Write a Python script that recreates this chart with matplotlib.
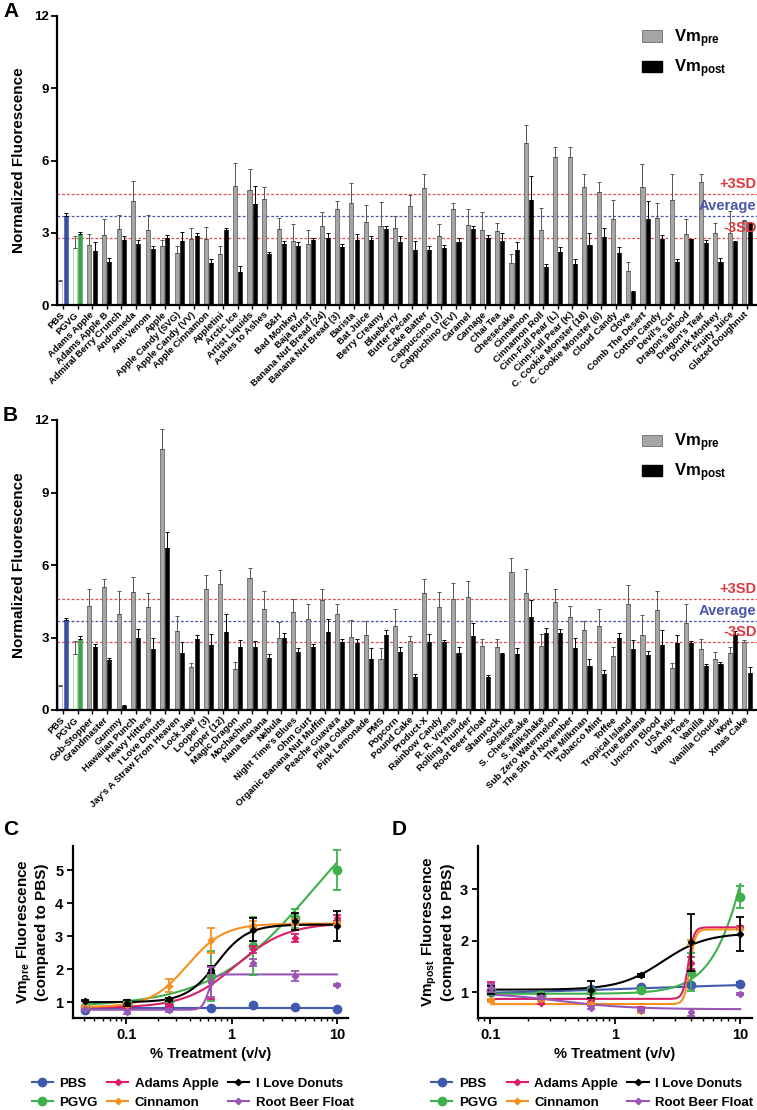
import numpy as np
import matplotlib
matplotlib.use("Agg")
import matplotlib.pyplot as plt
from matplotlib.patches import Patch
from matplotlib.lines import Line2D

plt.rcParams['font.family'] = ['Liberation Sans', 'DejaVu Sans']
plt.rcParams['font.weight'] = 'bold'
plt.rcParams['mathtext.fontset'] = 'custom'
plt.rcParams['mathtext.rm'] = 'Liberation Sans:bold'
plt.rcParams['mathtext.it'] = 'Liberation Sans:bold'
plt.rcParams['mathtext.bf'] = 'Liberation Sans:bold'
plt.rcParams['mathtext.default'] = 'regular'

# ---------------- Panel A data ----------------
names_A = ["PBS", "PGVG", "Adams Apple", "Adams Apple B", "Admiral Berry Crunch", "Andromeda",
           "Anti-Venom", "Apple", "Apple Candy (SVG)", "Apple Candy (VV)", "Apple Cinnamon",
           "Appletini", "Arctic Ice", "Artist Liquids", "Ashes to Ashes", "B&H", "Bad Monkey",
           "Baja Burst", "Banana Nut Bread (24)", "Banana Nut Bread (3)", "Barista", "Bat Juice",
           "Berry Creamy", "Blueberry", "Butter Pecan", "Cake Batter", "Cappuccino (J)",
           "Cappuchino (EV)", "Caramel", "Carnage", "Chai Tea", "Cheesecake", "Cinnamon",
           "Cinnamon Roll", "Cinn-Full Pear (L)", "Cinn-Full Pear (K)", "C. Cookie Monster (18)",
           "C. Cookie Monster (6)", "Cloud Candy", "Clove", "Comb The Desert", "Cotton Candy",
           "Devil's Cut", "Dragon's Blood", "Dragon's Tear", "Drunk Monkey", "Fruity Juice",
           "Glazed Doughnut"]
pre_A = [0.98, 2.35, 2.50, 2.90, 3.14, 4.31, 3.11, 2.45, 2.14, 2.76, 2.76, 2.10, 4.94, 4.78,
         4.40, 3.14, 2.67, 2.53, 3.30, 3.97, 4.23, 3.44, 3.26, 3.18, 4.12, 4.85, 2.86, 3.98,
         3.32, 3.12, 3.08, 1.73, 6.72, 3.11, 6.14, 6.14, 4.92, 4.71, 3.58, 1.42, 4.92, 3.61,
         4.34, 2.96, 5.09, 2.97, 3.00, 3.50]
pre_err_A = [0.05, 0.50, 0.45, 0.67, 0.60, 0.82, 0.62, 0.25, 0.31, 0.44, 0.49, 0.35, 0.96, 0.85,
             0.50, 0.46, 0.68, 0.57, 0.58, 0.36, 0.82, 0.71, 1.00, 0.52, 0.46, 0.57, 0.49, 0.27,
             0.68, 0.73, 0.32, 0.37, 0.77, 0.91, 0.43, 0.41, 0.51, 0.38, 0.79, 0.36, 0.93, 0.62,
             1.09, 0.61, 0.34, 0.43, 0.90, 0.05]
post_A = [3.70, 2.96, 2.25, 1.80, 2.71, 2.54, 2.32, 2.80, 2.64, 2.86, 1.76, 3.12, 1.38, 4.20,
          2.13, 2.52, 2.43, 2.71, 2.78, 2.42, 2.71, 2.68, 3.17, 2.63, 2.28, 2.27, 2.35, 2.63,
          3.14, 2.78, 2.65, 2.27, 4.37, 1.59, 2.20, 1.70, 2.50, 2.82, 2.17, 0.54, 3.57, 2.74,
          1.77, 2.72, 2.57, 1.80, 2.60, 3.35]
post_err_A = [0.12, 0.09, 0.35, 0.15, 0.14, 0.16, 0.13, 0.10, 0.41, 0.14, 0.14, 0.08, 0.22, 0.73,
              0.07, 0.13, 0.17, 0.09, 0.19, 0.13, 0.24, 0.17, 0.13, 0.22, 0.37, 0.18, 0.15, 0.17,
              0.16, 0.12, 0.35, 0.33, 0.99, 0.11, 0.20, 0.20, 0.50, 0.38, 0.23, 0.06, 0.73, 0.16,
              0.13, 0.03, 0.13, 0.15, 0.05, 0.05]

# ---------------- Panel B data ----------------
names_B = ["PBS", "PGVG", "Gob-Stopper", "Grandmaster", "Gummy", "Hawaiian Punch", "Heavy Hitters",
           "I Love Donuts", "Jay's A Straw From Heaven", "Lock Jaw", "Looper (3)", "Looper (12)",
           "Magic Dragon", "Mochachino", "Nana Banana", "Nebula", "Night Time's Blues", "Ohm Gurt",
           "Organic Banana Nut Muffin", "Peache Guavara", "Piña Colada", "Pink Lemonade", "PMS",
           "Popcorn", "Pound Cake", "Product-X", "Rainbow Candy", "R. R. Vixens", "Rolling Thunder",
           "Root Beer Float", "Shamrock", "Solstice", "S. Cheesecake", "S. Milkshake",
           "Sub Zero Watermelon", "The 5th of November", "The Milkman", "Tobacco Mint", "Toffee",
           "Tropical Island", "True Banana", "Unicorn Blood", "USA Mix", "Vamp Toes", "Vanilla",
           "Vanilla Clouds", "Wow", "Xmas Cake"]
pre_B = [0.99, 2.32, 4.30, 5.08, 3.96, 4.87, 4.25, 10.79, 3.26, 1.78, 5.02, 5.23, 1.68, 5.45,
         4.18, 2.97, 4.06, 3.77, 4.55, 3.96, 3.02, 3.10, 2.11, 3.49, 2.84, 4.86, 4.25, 4.61, 4.66,
         2.65, 2.61, 5.70, 4.84, 2.63, 4.46, 3.83, 3.31, 3.49, 2.23, 4.39, 3.10, 4.14, 1.75, 3.60,
         2.54, 2.12, 2.34, 2.83]
pre_err_B = [0.05, 0.55, 0.70, 0.33, 0.98, 0.63, 0.58, 0.82, 0.63, 0.15, 0.57, 0.56, 0.32, 0.43,
             0.74, 0.68, 0.54, 0.60, 0.45, 0.41, 0.70, 0.60, 0.44, 0.68, 0.21, 0.56, 0.62, 0.66,
             0.66, 0.30, 0.34, 0.59, 0.98, 0.52, 0.55, 0.46, 0.37, 0.68, 0.37, 0.77, 0.82, 0.78,
             0.20, 0.77, 0.41, 0.28, 0.26, 0.05]
post_B = [3.72, 2.95, 2.59, 2.07, 0.17, 2.97, 2.54, 6.69, 2.34, 2.95, 2.70, 3.21, 2.62, 2.62,
          2.15, 2.99, 2.39, 2.59, 3.21, 2.80, 2.79, 2.10, 3.09, 2.41, 1.38, 2.80, 2.81, 2.37,
          3.06, 1.35, 2.32, 2.30, 3.86, 3.20, 3.19, 2.55, 1.82, 1.50, 2.99, 2.52, 2.28, 2.69,
          2.77, 2.76, 1.81, 1.92, 3.10, 1.54]
post_err_B = [0.08, 0.10, 0.16, 0.10, 0.03, 0.38, 0.46, 0.66, 0.46, 0.15, 0.45, 0.77, 0.28, 0.23,
              0.15, 0.21, 0.16, 0.16, 0.54, 0.15, 0.16, 0.45, 0.21, 0.19, 0.12, 0.35, 0.09, 0.23,
              0.54, 0.10, 0.03, 0.25, 0.69, 0.20, 0.16, 0.45, 0.28, 0.15, 0.21, 0.38, 0.17, 0.61,
              0.33, 0.09, 0.09, 0.08, 0.15, 0.26]

ref_plus3sd = 4.6
ref_average = 3.7
ref_minus3sd = 2.8

# ---------------- Panels C / D data ----------------
series = ["PBS", "PGVG", "Adams Apple", "Cinnamon", "I Love Donuts", "Root Beer Float"]
colors = ["#3F5AAE", "#3DB04B", "#D81F68", "#F7901E", "#000000", "#9A55B5"]
markers = ["o", "o", "D", "D", "D", "D"]

conc_C = [0.04096, 0.1024, 0.256, 0.64, 1.6, 4.0, 10.0]
vals_C = [
    [0.77, 0.95, 0.85, 0.82, 0.90, 0.85, 0.79],
    [0.85, 0.97, 1.02, 1.80, 2.69, 3.54, 5.00],
    [0.82, 0.88, 0.90, 1.60, 2.60, 2.94, 3.55],
    [0.87, 0.92, 1.50, 2.87, 3.35, 3.43, 3.38],
    [1.05, 0.97, 1.09, 1.98, 3.20, 3.45, 3.30],
    [0.78, 0.70, 0.75, 1.60, 2.20, 1.78, 1.53],
]
errs_C = [
    [0.02, 0.10, 0.05, 0.03, 0.03, 0.03, 0.03],
    [0.03, 0.05, 0.05, 0.75, 0.88, 0.28, 0.60],
    [0.03, 0.05, 0.05, 0.50, 0.10, 0.12, 0.08],
    [0.02, 0.05, 0.20, 0.37, 0.10, 0.10, 0.05],
    [0.02, 0.10, 0.05, 0.10, 0.35, 0.25, 0.45],
    [0.02, 0.05, 0.05, 0.45, 0.10, 0.15, 0.03],
]
# 4-parameter logistic fit parameters: bottom, top, EC50, hill
fit_C = [
    (0.83, 0.83, 1.0, 1.0),
    (0.85, 8.0, 6.0, 0.9),
    (0.83, 3.40, 1.10, 1.8),
    (0.85, 3.38, 0.38, 2.5),
    (1.00, 3.35, 0.72, 3.0),
    (0.77, 1.84, 0.60, 15.0),
]

conc_D = [0.1024, 0.256, 0.64, 1.6, 4.0, 10.0]
vals_D = [
    [1.00, 0.94, 1.06, 1.10, 1.15, 1.16],
    [1.05, 0.95, 1.02, 1.04, 1.40, 2.85],
    [1.12, 0.80, 0.84, 0.68, 1.57, 2.26],
    [0.84, 0.86, 0.78, 0.63, 1.97, 2.23],
    [1.05, 0.92, 1.05, 1.33, 1.97, 2.14],
    [1.08, 0.90, 0.70, 0.66, 0.61, 0.97],
]
errs_D = [
    [0.15, 0.05, 0.05, 0.03, 0.03, 0.03],
    [0.10, 0.05, 0.05, 0.03, 0.37, 0.22],
    [0.08, 0.03, 0.03, 0.03, 0.12, 0.03],
    [0.03, 0.03, 0.03, 0.03, 0.05, 0.03],
    [0.08, 0.05, 0.16, 0.03, 0.55, 0.33],
    [0.08, 0.03, 0.03, 0.03, 0.07, 0.02],
]
fit_D = [
    (0.95, 1.20, 1.5, 0.6),
    (0.97, 10.0, 16.0, 2.5),
    (0.87, 2.26, 3.85, 20.0),
    (0.77, 2.22, 3.95, 20.0),
    (1.05, 2.15, 2.40, 2.5),
    (1.00, 0.67, 0.35, 1.5),
]

# ---------------- Figure ----------------
W, H = 757, 1110
fig = plt.figure(figsize=(W / 100, H / 100), dpi=100)
fig.patch.set_facecolor("white")


def px_axes(l, t, r, b):
    return fig.add_axes([l / W, 1 - b / H, (r - l) / W, (b - t) / H])


PRE_FACE = "#A6A6A6"
PRE_EDGE = "#6A6A6A"


def bar_panel(ax, names, pre, pre_err, post, post_err):
    n = len(names)
    x = np.arange(n)
    w = 0.28
    off = 0.18
    pre_fc = [PRE_FACE] * n
    pre_ec = [PRE_EDGE] * n
    post_fc = ["black"] * n
    pre_fc[0], pre_ec[0], post_fc[0] = "white", "#A9B5DB", "#3A4E9F"
    pre_fc[1], pre_ec[1], post_fc[1] = "white", "#9FD4A0", "#3AA64B"
    ax.bar(x - off, pre, w, color=pre_fc, edgecolor=pre_ec, linewidth=0.6, zorder=2)
    ax.bar(x + off, post, w, color=post_fc, edgecolor=post_fc, linewidth=0.4, zorder=2)
    ax.errorbar(x - off, pre, yerr=[np.zeros(n), pre_err], fmt="none", ecolor="#555555",
                elinewidth=0.7, capsize=1.2, capthick=0.7, zorder=3)
    ax.errorbar(x + off, post, yerr=[np.zeros(n), post_err], fmt="none", ecolor="black",
                elinewidth=0.7, capsize=1.2, capthick=0.7, zorder=3)
    ax.set_xlim(-0.41, n - 1 + 0.69)
    ax.set_ylim(0, 12)
    ax.set_yticks([0, 3, 6, 9, 12])
    ax.set_xticks(x)
    ax.set_xticklabels(names, rotation=45, ha="right", va="center", rotation_mode="anchor",
                       fontsize=6.8, fontweight="bold")
    ax.tick_params(axis="x", length=3, width=1.0, pad=3)
    ax.tick_params(axis="y", length=4, width=1.3, labelsize=9.5, pad=2)
    for s in ["top", "right"]:
        ax.spines[s].set_visible(False)
    for s in ["left", "bottom"]:
        ax.spines[s].set_linewidth(1.6)
    ax.set_ylabel("Normalized Fluorescence", fontsize=11, fontweight="bold", labelpad=6)
    # reference lines
    ax.axhline(ref_plus3sd, color="#E5484D", lw=0.9, ls=(0, (2.2, 1.6)), zorder=1)
    ax.axhline(ref_average, color="#4756A8", lw=0.9, ls=(0, (2.2, 1.6)), zorder=1)
    ax.axhline(ref_minus3sd, color="#E5484D", lw=0.9, ls=(0, (2.2, 1.6)), zorder=1)
    xr = n - 1 + 0.65
    ax.text(xr, ref_plus3sd + 0.12, "+3SD", color="#E0383E", ha="right", va="bottom",
            fontsize=10.5, fontweight="bold", zorder=5)
    ax.text(xr, ref_average + 0.12, "Average", color="#4A57A8", ha="right", va="bottom",
            fontsize=10.5, fontweight="bold", zorder=5)
    ax.text(xr, ref_minus3sd + 0.12, "-3SD", color="#E0383E", ha="right", va="bottom",
            fontsize=10.5, fontweight="bold", zorder=5)
    handles = [Patch(facecolor=PRE_FACE, edgecolor=PRE_EDGE, linewidth=0.6),
               Patch(facecolor="black", edgecolor="black")]
    ax.legend(handles, ["Vm$_{pre}$", "Vm$_{post}$"], loc="upper left",
              bbox_to_anchor=(0.826, 0.985), frameon=False, fontsize=12,
              handlelength=1.2, handleheight=0.65, labelspacing=0.45, handletextpad=0.7,
              borderaxespad=0)


axA = px_axes(57, 16, 757, 305)
bar_panel(axA, names_A, pre_A, pre_err_A, post_A, post_err_A)
axB = px_axes(57, 420, 757, 710)
bar_panel(axB, names_B, pre_B, pre_err_B, post_B, post_err_B)


def logistic(x, p):
    b, t, ec, h = p
    return b + (t - b) / (1 + (ec / x) ** h)


def curve_panel(ax, conc, vals, errs, fits, xlim, ylim, yticks, ylabel, leg_x):
    xs = np.logspace(np.log10(min(conc)), np.log10(max(conc)), 400)
    for i, name in enumerate(series):
        c = colors[i]
        ax.plot(xs, logistic(xs, fits[i]), color=c, lw=1.5, zorder=2 + i * 0.1)
        ms = 6 if markers[i] == "o" else 3.2
        ax.errorbar(conc, vals[i], yerr=errs[i], fmt=markers[i], color=c, ms=ms,
                    elinewidth=1.3, capsize=3, capthick=1.3, zorder=3 + i * 0.1)
    ax.set_xscale("log")
    ax.set_xlim(*xlim)
    ax.set_ylim(*ylim)
    ax.set_yticks(yticks)
    ax.set_xticks([0.1, 1, 10])
    ax.set_xticklabels(["0.1", "1", "10"])
    ax.tick_params(axis="both", which="major", length=4, width=1.3, labelsize=10.5, pad=3)
    ax.tick_params(axis="x", which="minor", length=2.5, width=1.0)
    for s in ["top", "right"]:
        ax.spines[s].set_visible(False)
    for s in ["left", "bottom"]:
        ax.spines[s].set_linewidth(1.6)
    ax.set_xlabel("% Treatment (v/v)", fontsize=10.5, fontweight="bold", labelpad=4)
    ax.set_ylabel(ylabel, fontsize=11, fontweight="bold", labelpad=4, linespacing=1.1)
    handles = [Line2D([], [], color=colors[i], marker=markers[i],
                      ms=6 if markers[i] == "o" else 3.2, lw=1.5) for i in range(len(series))]
    ax.legend(handles, series, loc="upper left", bbox_to_anchor=(leg_x, -0.315), ncol=3,
              frameon=False, fontsize=9.5, handlelength=1.6, columnspacing=0.7,
              handletextpad=0.5, labelspacing=0.5, borderaxespad=0)


axC = px_axes(73, 846, 348, 1018)
curve_panel(axC, conc_C, vals_C, errs_C, fit_C, (0.0313, 12.7), (0.52, 5.73), [1, 2, 3, 4, 5],
            "Vm$_{pre}$ Fluorescence\n(compared to PBS)", -0.17)
axD = px_axes(478, 846, 752, 1018)
curve_panel(axD, conc_D, vals_D, errs_D, fit_D, (0.08, 12.4), (0.5, 3.84), [1, 2, 3],
            "Vm$_{post}$ Fluorescence\n(compared to PBS)", -0.19)

# Panel letters
for lab, x, y in [("A", 3, 2), ("B", 3, 406), ("C", 3, 820), ("D", 392, 820)]:
    fig.text(x / W, 1 - y / H, lab, fontsize=15, fontweight="bold", ha="left", va="top")

fig.savefig("out.png", dpi=100, facecolor="white")
